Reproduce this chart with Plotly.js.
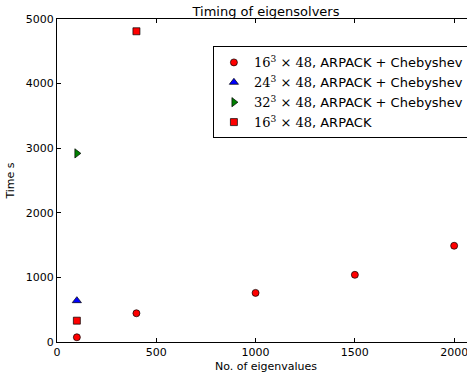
<!DOCTYPE html>
<html>
<head>
<meta charset="utf-8">
<script src="https://cdn.plot.ly/plotly-3.0.1.min.js"></script>
<style>
html, body { margin:0; padding:0; overflow:hidden; background:#fff; }
#chart { width:476px; height:377px; }
</style>
</head>
<body>
<div id="chart"></div>
<script>
// Data
var chebyX16 = [100, 400, 1000, 1500, 2000];
var chebyY16 = [73, 445, 760, 1040, 1490];
var chebyX24 = [100];
var chebyY24 = [640];
var chebyX32 = [100];
var chebyY32 = [2920];
var arpackX16 = [100, 400];
var arpackY16 = [330, 4810];

var seriesNames = [
  '<span style="font-family:\'DejaVu Serif\'">16<sup>3</sup> × 48</span>, ARPACK + Chebyshev',
  '<span style="font-family:\'DejaVu Serif\'">24<sup>3</sup> × 48</span>, ARPACK + Chebyshev',
  '<span style="font-family:\'DejaVu Serif\'">32<sup>3</sup> × 48</span>, ARPACK + Chebyshev',
  '<span style="font-family:\'DejaVu Serif\'">16<sup>3</sup> × 48</span>, ARPACK'
];

var edge = {color:'#000', width:0.7};
var traces = [
  {x:chebyX16, y:chebyY16, name:seriesNames[0], mode:'markers', type:'scatter',
   marker:{symbol:'circle', size:7, color:'#ff0000', line:edge}},
  {x:chebyX24, y:chebyY24, name:seriesNames[1], mode:'markers', type:'scatter',
   marker:{symbol:'triangle-up', size:8, color:'#0000ff', line:edge}},
  {x:chebyX32, y:chebyY32, name:seriesNames[2], mode:'markers', type:'scatter',
   marker:{symbol:'triangle-right', size:8, color:'#008000', line:edge}},
  {x:arpackX16, y:arpackY16, name:seriesNames[3], mode:'markers', type:'scatter',
   marker:{symbol:'square', size:7, color:'#ff0000', line:edge}}
];

var axisCommon = {
  showgrid:false, zeroline:false, showline:true, mirror:'ticks',
  linecolor:'#000', linewidth:1, ticks:'inside', ticklen:4, tickcolor:'#000',
  tickfont:{family:'DejaVu Sans', size:11, color:'#000'}
};

var layout = {
  width:476, height:377,
  margin:{l:57, r:1, t:19, b:35},
  paper_bgcolor:'#fff', plot_bgcolor:'#fff',
  font:{family:'DejaVu Sans', color:'#000'},
  title:{text:'Timing of eigensolvers', font:{family:'DejaVu Sans', size:13, color:'#000'},
         x:0.5, xref:'paper', y:1, yref:'paper', yanchor:'bottom', pad:{b:3}},
  xaxis:Object.assign({}, axisCommon, {range:[0, 2105], tickvals:[0,500,1000,1500,2000],
         title:{text:'No. of eigenvalues', font:{family:'DejaVu Sans', size:11, color:'#000'}, standoff:4}}),
  yaxis:Object.assign({}, axisCommon, {range:[0, 5000], tickvals:[0,1000,2000,3000,4000,5000],
         title:{text:'Time s', font:{family:'DejaVu Sans', size:11, color:'#000'}, standoff:8}}),
  showlegend:true,
  legend:{x:0.373, y:0.915, xanchor:'left', yanchor:'top', bgcolor:'#fff',
          bordercolor:'#000', borderwidth:1, tracegroupgap:0,
          font:{family:'DejaVu Sans', size:13, color:'#000'}}
};

Plotly.newPlot('chart', traces, layout, {displayModeBar:false, staticPlot:true});
</script>
</body>
</html>
